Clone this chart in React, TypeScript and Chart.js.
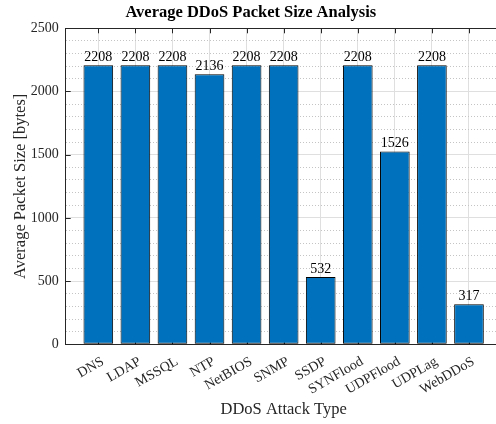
import React, { useEffect, useRef } from "react";
import { Chart, registerables } from "chart.js";
Chart.register(...registerables);

const categories = ["DNS", "LDAP", "MSSQL", "NTP", "NetBIOS", "SNMP", "SSDP", "SYNFlood", "UDPFlood", "UDPLag", "WebDDoS"];
const avgPacketSize = [2208, 2208, 2208, 2136, 2208, 2208, 532, 2208, 1526, 2208, 317];
const yMajorTicks = [0, 500, 1000, 1500, 2000, 2500];
const yMinorStep = 100;
const titleText = "Average DDoS Packet Size Analysis";
const xTitleText = "DDoS Attack Type";
const yTitleText = "Average Packet Size [bytes]";

const FONT = "'Liberation Serif', 'Times New Roman', serif";
const AXIS = "#262626";
const MAJOR_GRID = "#dfdfdf";
const MINOR_GRID = "#c4c4c4";
const BAR = "#0072BD";

const isMajor = (v: number) => yMajorTicks.includes(v);

const boxPlugin = {
  id: "boxTicks",
  beforeDatasetsDraw(chart: any) {
    const { ctx, chartArea, scales } = chart;
    const a = (v: number) => Math.round(v) + 0.5;
    ctx.save();
    ctx.strokeStyle = AXIS;
    ctx.lineWidth = 1;
    ctx.beginPath();
    ctx.moveTo(chartArea.left, a(chartArea.top));
    ctx.lineTo(chartArea.right, a(chartArea.top));
    yMajorTicks.forEach((v) => {
      const y = a(scales.y.getPixelForValue(v));
      ctx.moveTo(chartArea.left, y);
      ctx.lineTo(chartArea.left + 5, y);
    });
    categories.forEach((_, i) => {
      const x = a(scales.x.getPixelForValue(i + 1));
      ctx.moveTo(x, chartArea.top);
      ctx.lineTo(x, chartArea.top + 5);
      ctx.moveTo(x, chartArea.bottom);
      ctx.lineTo(x, chartArea.bottom - 5);
    });
    ctx.stroke();
    ctx.restore();
  },
  afterDatasetsDraw(chart: any) {
    const { ctx } = chart;
    const meta = chart.getDatasetMeta(0);
    ctx.save();
    ctx.fillStyle = "#000";
    ctx.font = `14px ${FONT}`;
    ctx.textAlign = "center";
    ctx.textBaseline = "alphabetic";
    meta.data.forEach((el: any, i: number) => {
      ctx.fillText(String(avgPacketSize[i]), el.x, el.y - 4.5);
    });
    ctx.restore();
  },
};

export default function App() {
  const ref = useRef<HTMLCanvasElement | null>(null);
  useEffect(() => {
    if (!ref.current) return;
    const chart = new Chart(ref.current, {
      type: "bar",
      data: {
        datasets: [
          {
            data: categories.map((_, i) => ({ x: i + 1, y: avgPacketSize[i] })),
            backgroundColor: BAR,
            borderColor: "#000",
            borderWidth: 1,
            borderSkipped: false,
            categoryPercentage: 1,
            barPercentage: 0.8,
          },
        ],
      },
      options: {
        responsive: false,
        animation: false,
        events: [],
        layout: { padding: { left: 0, right: 18.4, top: 0, bottom: 0 } },
        plugins: {
          legend: { display: false },
          tooltip: { enabled: false },
          title: {
            display: true,
            text: titleText,
            color: "#000",
            font: { family: FONT, size: 16.5, weight: "bold", lineHeight: 1.2 },
            padding: { top: 3, bottom: 5.5 },
          },
        },
        scales: {
          x: {
            type: "linear",
            offset: false,
            min: 0.12,
            max: 11.88,
            afterBuildTicks: (scale: any) => {
              scale.ticks = categories.map((_, i) => ({ value: i + 1 }));
            },
            afterFit: (scale: any) => {
              scale.height = 79.7;
            },
            grid: { color: MAJOR_GRID, drawTicks: false, lineWidth: 1, offset: false },
            border: { color: AXIS, width: 1 },
            ticks: {
              autoSkip: false,
              minRotation: 30,
              maxRotation: 30,
              padding: 9,
              labelOffset: 4.5,
              color: AXIS,
              font: { family: FONT, size: 14 },
              callback: (v: any) => categories[Number(v) - 1] ?? "",
            },
            title: {
              display: true,
              text: xTitleText,
              color: AXIS,
              font: { family: FONT, size: 16.5, lineHeight: 1.2 },
              padding: { top: 0, bottom: 4.5 },
            },
          },
          y: {
            min: 0,
            max: 2500,
            afterFit: (scale: any) => {
              scale.width = 65.7;
            },
            grid: {
              drawTicks: false,
              color: (ctx: any) => (ctx.tick && isMajor(ctx.tick.value) ? MAJOR_GRID : MINOR_GRID),
            },
            border: {
              color: AXIS,
              width: 1,
              dash: (ctx: any) => (ctx.tick && !isMajor(ctx.tick.value) ? [1, 2] : []),
            },
            ticks: {
              stepSize: yMinorStep,
              autoSkip: false,
              padding: 7,
              color: AXIS,
              font: { family: FONT, size: 14 },
              callback: (v: any) => (isMajor(Number(v)) ? String(v) : ""),
            },
            title: {
              display: true,
              text: yTitleText,
              color: AXIS,
              font: { family: FONT, size: 16.5, lineHeight: 1.2 },
              padding: { top: 10.3, bottom: 0 },
            },
          },
        },
      } as any,
      plugins: [boxPlugin],
    });
    return () => chart.destroy();
  }, []);
  return (
    <div style={{ position: "fixed", left: 0, top: 0, width: 496, height: 424, overflow: "hidden", background: "#fff" }}>
      <canvas ref={ref} width={520} height={424} style={{ display: "block", width: 520, height: 424 }} />
    </div>
  );
}
